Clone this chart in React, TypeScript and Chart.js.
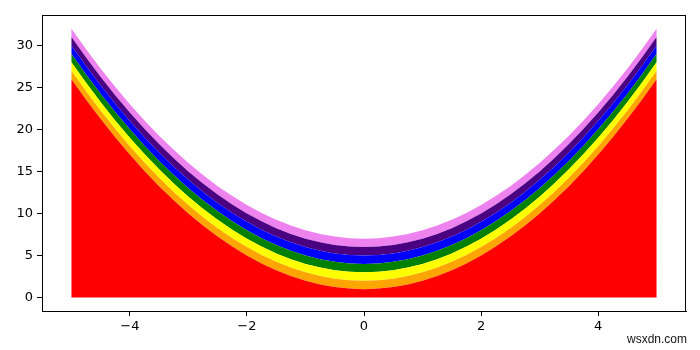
import React, { useEffect, useRef } from "react";
import { Chart, registerables } from "chart.js";

Chart.register(...registerables);

const xValues = [
  -5, -4.75, -4.5, -4.25, -4, -3.75, -3.5, -3.25, -3, -2.75, -2.5, -2.25, -2, -1.75, -1.5, -1.25, -1, -0.75, -0.5, -0.25,
  0, 0.25, 0.5, 0.75, 1, 1.25, 1.5, 1.75, 2, 2.25, 2.5, 2.75, 3, 3.25, 3.5, 3.75, 4, 4.25, 4.5, 4.75, 5,
];
const baseValues = [
  26, 23.5625, 21.25, 19.0625, 17, 15.0625, 13.25, 11.5625, 10, 8.5625, 7.25, 6.0625, 5, 4.0625, 3.25, 2.5625, 2, 1.5625, 1.25, 1.0625,
  1, 1.0625, 1.25, 1.5625, 2, 2.5625, 3.25, 4.0625, 5, 6.0625, 7.25, 8.5625, 10, 11.5625, 13.25, 15.0625, 17, 19.0625, 21.25, 23.5625, 26,
];
const bandWidths = [1, 1, 1, 1, 1, 1];
const bandColors = ["#ff0000", "#ffa500", "#ffff00", "#008000", "#0000ff", "#4b0082", "#ee82ee"];
const xTicks = [-4, -2, 0, 2, 4];
const yTicks = [0, 5, 10, 15, 20, 25, 30];

const frame = {
  id: "frame",
  afterDraw(chart: any) {
    const { ctx, chartArea: a } = chart;
    ctx.save();
    ctx.strokeStyle = "#000";
    ctx.lineWidth = 1;
    ctx.strokeRect(Math.round(a.left) + 0.5, Math.round(a.top) + 0.5, Math.round(a.right - a.left) - 1, Math.round(a.bottom - a.top));
    ctx.restore();
  },
};

export default function App() {
  const ref = useRef<HTMLCanvasElement>(null);
  useEffect(() => {
    if (!ref.current) return;
    const layers: number[][] = [baseValues];
    bandWidths.forEach((w, i) => {
      layers.push(layers[i].map((v) => v + w));
    });
    const datasets = layers.map((vals, i) => ({
      data: xValues.map((x, j) => ({ x, y: vals[j] })),
      backgroundColor: bandColors[i],
      borderWidth: 0,
      pointRadius: 0,
      fill: i === 0 ? "origin" : "-1",
      tension: 0,
    }));
    const font = { family: "DejaVu Sans", size: 13 };
    const chart = new Chart(ref.current, {
      type: "line",
      data: { datasets },
      plugins: [frame],
      options: {
        animation: false,
        responsive: false,
        layout: { padding: { top: 15, right: 14, left: 0, bottom: 0 } },
        plugins: { legend: { display: false }, tooltip: { enabled: false } },
        scales: {
          x: {
            type: "linear",
            min: -5.5,
            max: 5.5,
            afterFit: (s: any) => { s.height = 39; },
            afterBuildTicks: (s: any) => { s.ticks = xTicks.map((v) => ({ value: v })); },
            ticks: {
              color: "#000",
              font,
              padding: 3,
              callback: (v: any) => String(v).replace("-", "\u2212"),
            },
            grid: { drawOnChartArea: false, drawTicks: true, tickLength: 5, color: "#000" },
            border: { color: "#000" },
          },
          y: {
            type: "linear",
            min: -1.6,
            max: 33.6,
            afterFit: (s: any) => { s.width = 42; },
            afterBuildTicks: (s: any) => { s.ticks = yTicks.map((v) => ({ value: v })); },
            ticks: { color: "#000", font, padding: 4 },
            grid: { drawOnChartArea: false, drawTicks: true, tickLength: 5, color: "#000" },
            border: { color: "#000" },
          },
        },
      },
    });
    return () => chart.destroy();
  }, []);
  return (
    <div style={{ position: "absolute", left: 0, top: 0, width: 700, height: 350, background: "#fff" }}>
      <canvas ref={ref} width={700} height={350} />
      <div
        style={{
          position: "absolute",
          left: 627,
          top: 332,
          fontFamily: "Liberation Sans",
          fontSize: 12,
          lineHeight: "14px",
          color: "#111",
        }}
      >
        wsxdn.com
      </div>
    </div>
  );
}
